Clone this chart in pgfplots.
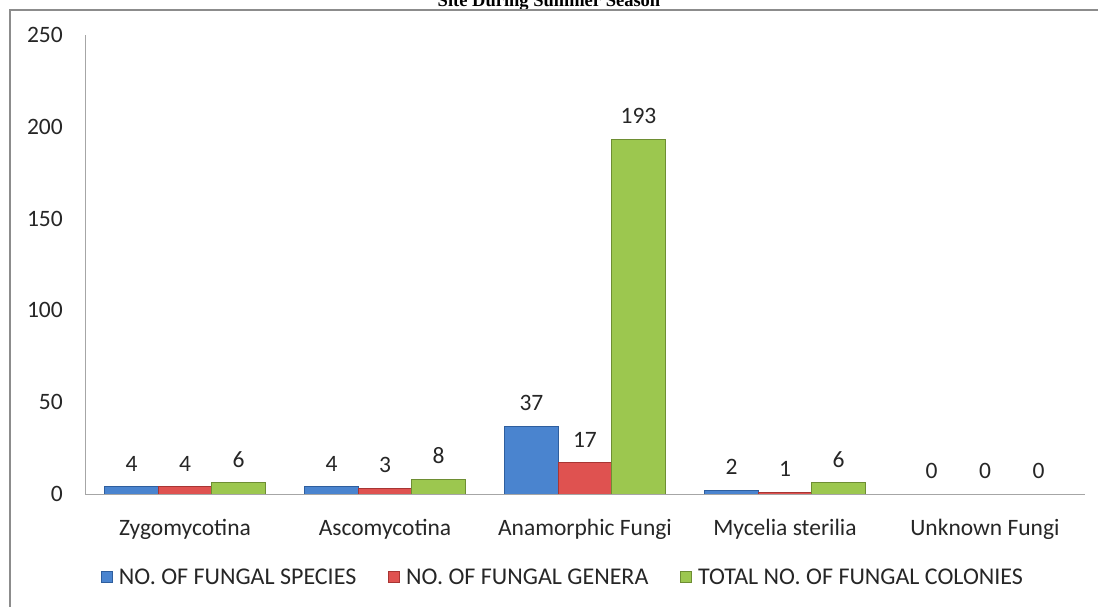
\documentclass[border=0pt]{standalone}
\usepackage{fontspec}
\setmainfont{Carlito}
\newfontfamily\titlefont{Liberation Serif}
\usepackage{pgfplots}
\pgfplotsset{compat=1.18}
\definecolor{cblue}{HTML}{4A84CF}
\definecolor{cblueD}{HTML}{2E5E9E}
\definecolor{cred}{HTML}{DF5250}
\definecolor{credD}{HTML}{A83533}
\definecolor{cgreen}{HTML}{9CC74F}
\definecolor{cgreenD}{HTML}{6E8E33}
\definecolor{framegray}{HTML}{8C8C8C}
\definecolor{axisgray}{HTML}{A6A6A6}
\definecolor{txt}{HTML}{262626}
\begin{document}
\begin{tikzpicture}
\useasboundingbox (0bp,0bp) rectangle (1098bp,607bp);
\node[font=\titlefont\bfseries\fontsize{18.5bp}{22bp}\selectfont, anchor=base, inner sep=0] at (549bp,600bp) {Site During Summer Season};
\draw[framegray, line width=2bp] (10bp,-5bp) -- (10bp,597bp) -- (1110bp,597bp);
\begin{axis}[
  at={(85bp,113bp)}, anchor=south west,
  width=1000bp, height=459bp, scale only axis,
  xmin=-0.5, xmax=4.5, ymin=0, ymax=250,
  ytick={0,50,...,250},
  xtick={0,...,4},
  xticklabels={Zygomycotina,Ascomycotina,Anamorphic Fungi,Mycelia sterilia,Unknown Fungi},
  axis lines*=left,
  axis line style={axisgray, line width=1bp},
  major tick length=0pt,
  tick label style={font=\fontsize{23.5bp}{27bp}\selectfont, text=txt},
  /pgf/number format/assume math mode=true,
  yticklabel style={anchor=east, inner sep=0pt, xshift=-22bp},
  xticklabel style={anchor=north, inner sep=0pt, yshift=-25bp},
  ybar=0pt, bar width=53.5bp,
  nodes near coords,
  every node near coord/.append style={font=\fontsize{23.5bp}{27bp}\selectfont, text=txt, anchor=south, inner sep=0pt, yshift=15bp},
  legend image code/.code={\draw[#1, line width=0.8bp] (0bp,-5.5bp) rectangle (11bp,5.5bp);},
  legend style={at={(0.478,-0.181)}, anchor=center, draw=none, fill=none, legend columns=3,
    font=\fontsize{24bp}{28bp}\selectfont, text=txt, inner sep=0pt,
    /tikz/every odd column/.append style={column sep=4bp},
    /tikz/every even column/.append style={column sep=30bp}},
]
\addplot[fill=cblue, draw=cblueD, line width=1bp] coordinates {(0,4) (1,4) (2,37) (3,2) (4,0)};
\addplot[fill=cred, draw=credD, line width=1bp] coordinates {(0,4) (1,3) (2,17) (3,1) (4,0)};
\addplot[fill=cgreen, draw=cgreenD, line width=1bp] coordinates {(0,6) (1,8) (2,193) (3,6) (4,0)};
\legend{NO. OF FUNGAL SPECIES, NO. OF FUNGAL GENERA, TOTAL NO. OF FUNGAL COLONIES}
\end{axis}
\end{tikzpicture}
\end{document}
